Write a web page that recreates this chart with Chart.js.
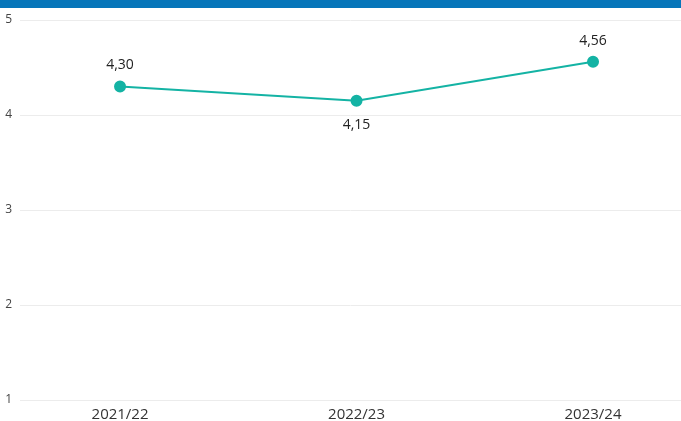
<!DOCTYPE html>
<html>
<head>
<meta charset="utf-8">
<script src="https://cdn.jsdelivr.net/npm/chart.js@4/dist/chart.umd.min.js"></script>
<style>
  html, body { margin: 0; padding: 0; background: #fff; }
  #wrap { position: relative; width: 681px; height: 421px; overflow: hidden; }
  #bar { position: absolute; left: 0; top: 0; width: 681px; height: 8px; background: #0776ba; }
  #lineChart { position: absolute; left: 0; top: 0; }
</style>
</head>
<body>
<div id="wrap">
  <canvas id="lineChart" width="681" height="421"></canvas>
  <div id="bar"></div>
</div>
<script>
const years = ["2021/22", "2022/23", "2023/24"];
const scores = [4.30, 4.15, 4.56];
const yTicks = [1, 2, 3, 4, 5];

// draws the value above the point, or below when it is a dip
const valueLabels = {
  id: 'valueLabels',
  afterDatasetsDraw(chart) {
    const ctx = chart.ctx;
    const meta = chart.getDatasetMeta(0);
    ctx.save();
    ctx.font = '14px "Open Sans"';
    ctx.fillStyle = '#222';
    ctx.textAlign = 'center';
    ctx.textBaseline = 'middle';
    meta.data.forEach((pt, i) => {
      const v = scores[i];
      const prev = i > 0 ? scores[i - 1] : -Infinity;
      const next = i < scores.length - 1 ? scores[i + 1] : -Infinity;
      const below = v < prev && v < next;
      const txt = v.toFixed(2).replace('.', ',');
      ctx.fillText(txt, pt.x, below ? pt.y + 24 : pt.y - 21);
    });
    ctx.restore();
  }
};

const ctx = document.getElementById('lineChart');
const myChart = new Chart(ctx, {
  type: 'line',
  data: {
    datasets: [
      {
        label: "Score",
        data: scores.map((v, i) => ({ x: i, y: v })),
        borderColor: "#14b3a4",
        backgroundColor: "#14b3a4",
        borderWidth: 2,
        fill: false,
        tension: 0,
        pointRadius: 5,
        pointHoverRadius: 5
      }
    ]
  },
  options: {
    responsive: false,
    animation: false,
    layout: { autoPadding: false, padding: { top: 20, right: 0, left: 0, bottom: 0 } },
    plugins: {
      legend: { display: false },
      tooltip: { enabled: false }
    },
    scales: {
      x: {
        type: 'linear',
        min: -0.423,
        max: 2.372,
        grid: { display: false, drawTicks: false },
        border: { display: false },
        afterBuildTicks: (scale) => { scale.ticks = years.map((_, i) => ({ value: i })); },
        afterFit: (scale) => {
          scale.height = 21;
          scale.paddingLeft = 0;
          scale.paddingRight = 0;
        },
        ticks: {
          padding: 6,
          autoSkip: false,
          maxRotation: 0,
          color: '#333',
          font: { family: 'Open Sans', size: 15 },
          callback: (v) => years[v]
        }
      },
      y: {
        min: 1,
        max: 5,
        grid: { color: '#ececec', drawTicks: false },
        border: { display: false },
        afterBuildTicks: (scale) => { scale.ticks = yTicks.map(v => ({ value: v })); },
        afterFit: (scale) => {
          scale.width = 20;
          scale.paddingTop = 0;
          scale.paddingBottom = 0;
        },
        ticks: {
          padding: 8,
          color: '#444',
          font: { family: 'Open Sans', size: 12 }
        }
      }
    }
  },
  plugins: [valueLabels]
});
</script>
</body>
</html>
